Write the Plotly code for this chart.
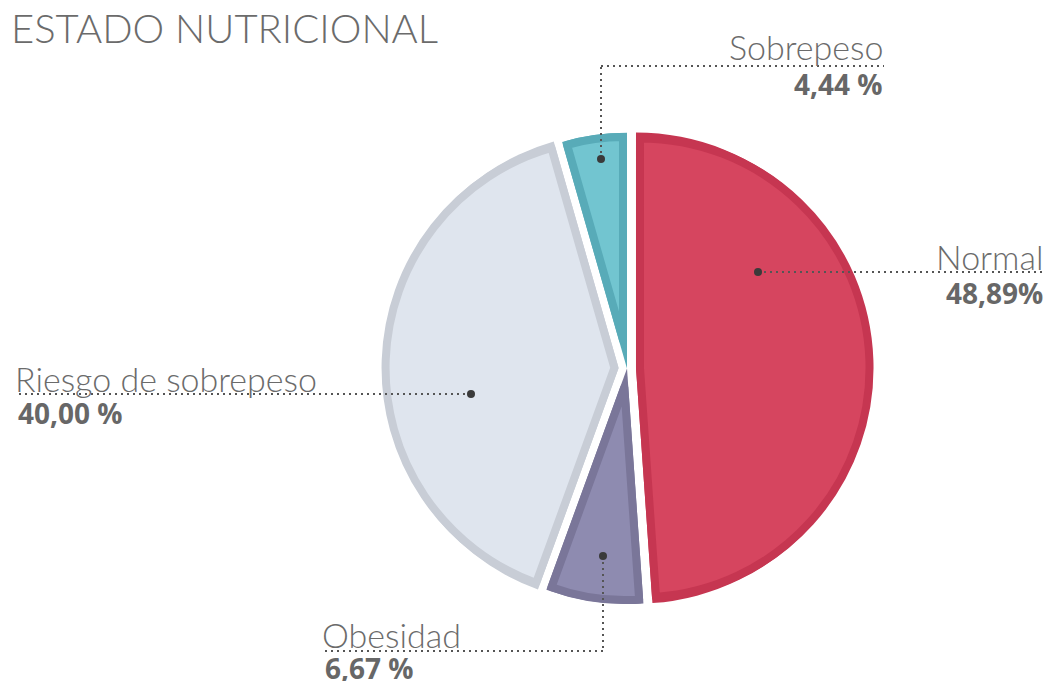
"""Estado nutricional — exploded pie with inner rim, dotted leader labels."""
import math

import plotly.graph_objects as go

categories = ["Normal", "Obesidad", "Riesgo de sobrepeso", "Sobrepeso"]
values = [48.89, 6.67, 40.00, 4.44]
value_labels = ["48,89%", "6,67 %", "40,00 %", "4,44 %"]
fill_colors = ["#d6455f", "#8e8bb0", "#dfe5ee", "#72c5d0"]
rim_colors = ["#c63651", "#7a7699", "#c8cdd6", "#58abb8"]

W, H = 1047, 681
CX, CY = 627, 368.4        # pie centre in px
R = 235.6                  # outer radius in px
EXPLODE = [9, 0, 8.4, 0]   # pull-out of each slice, px
BAND = 8                   # darker rim inside each slice
CLEAR = "rgba(0,0,0,0)"
TEXT = "#6b6b6b"
LEADER = "#555555"


def px(x, y):
    return x / W, 1 - y / H


def domain_for(radius, max_pull):
    # plotly: r = min(box)/2 / (1 + maxPull) -> square box around the centre
    half = radius * (1 + max_pull)
    return dict(x=[(CX - half) / W, (CX + half) / W],
                y=[1 - (CY + half) / H, 1 - (CY - half) / H])


fig = go.Figure()

# base: dark rim colour, exploded slices
base_pull = [d / R for d in EXPLODE]
fig.add_trace(go.Pie(
    labels=categories, values=values, sort=False, direction="clockwise",
    rotation=0, pull=base_pull,
    marker=dict(colors=rim_colors, line=dict(width=0)),
    textinfo="none", hoverinfo="skip", domain=domain_for(R, max(base_pull)),
))

# one inset copy per slice: pulled further along its bisector so its
# edges sit BAND/2 inside the base slice, stroked with the rim colour
total = sum(values)
for j in range(len(values)):
    half = math.pi * values[j] / total
    e = (BAND / 2) / math.sin(half)
    fudge = e * (1 - math.cos(half)) / 2
    r = R - BAND / 2 - e + fudge
    p = (EXPLODE[j] + e) / r
    fig.add_trace(go.Pie(
        labels=categories, values=values, sort=False, direction="clockwise",
        rotation=0, pull=[p if i == j else 0 for i in range(len(values))],
        marker=dict(
            colors=[fill_colors[i] if i == j else CLEAR for i in range(len(values))],
            line=dict(color=[rim_colors[i] if i == j else CLEAR for i in range(len(values))],
                      width=[BAND if i == j else 0 for i in range(len(values))]),
        ),
        textinfo="none", hoverinfo="skip", domain=domain_for(r, p),
    ))

# leader lines (px paths) and anchor dots
leaders = [
    [(758, 272), (1044, 272)],                    # Normal
    [(603, 556), (603, 651), (322, 651)],         # Obesidad
    [(471, 394), (15, 394)],                      # Riesgo
    [(601, 159), (601, 66), (884, 66)],           # Sobrepeso
]
shapes = []
for path in leaders:
    for (x0, y0), (x1, y1) in zip(path[:-1], path[1:]):
        a, b = px(x0, y0)
        c, d = px(x1, y1)
        shapes.append(dict(type="line", xref="paper", yref="paper",
                           x0=a, y0=b, x1=c, y1=d,
                           line=dict(color=LEADER, width=2, dash="2px,4px")))
    dx, dy = path[0]
    a0, b0 = px(dx - 4, dy + 4)
    a1, b1 = px(dx + 4, dy - 4)
    shapes.append(dict(type="circle", xref="paper", yref="paper",
                       x0=a0, y0=b0, x1=a1, y1=b1,
                       fillcolor="#3a3a3a", line=dict(width=0)))

# label placement: (x, name y, value y, anchor)
label_pos = [
    (1045, 256, 293, "right"),
    (320, 634, 668, "left"),
    (13, 378, 413, "left"),
    (885, 47, 84, "right"),
]
annotations = []
for (x, yn, yv, anchor), name, val in zip(label_pos, categories, value_labels):
    a, b = px(x, yn)
    annotations.append(dict(x=a, y=b, xref="paper", yref="paper", text=name,
                            showarrow=False, xanchor=anchor, yanchor="middle",
                            font=dict(family="Lato", size=34, weight=300, color=TEXT)))
    shift = 3 if anchor == "left" else 0
    a, b = px(x + shift, yv)
    annotations.append(dict(x=a, y=b, xref="paper", yref="paper", text=val,
                            showarrow=False, xanchor=anchor, yanchor="middle",
                            font=dict(family="Open Sans", size=28, weight=700, color="#676767")))

a, b = px(9, 28)
annotations.append(dict(x=a, y=b, xref="paper", yref="paper", text="ESTADO NUTRICIONAL",
                        showarrow=False, xanchor="left", yanchor="middle",
                        font=dict(family="Lato", size=40, weight=300, color=TEXT)))

fig.update_layout(
    width=W, height=H, margin=dict(l=0, r=0, t=0, b=0),
    paper_bgcolor="white", plot_bgcolor="white", showlegend=False,
    shapes=shapes, annotations=annotations,
)

fig.write_html("out.html", config={"displayModeBar": False},
               post_script="document.body.style.margin='0';")
